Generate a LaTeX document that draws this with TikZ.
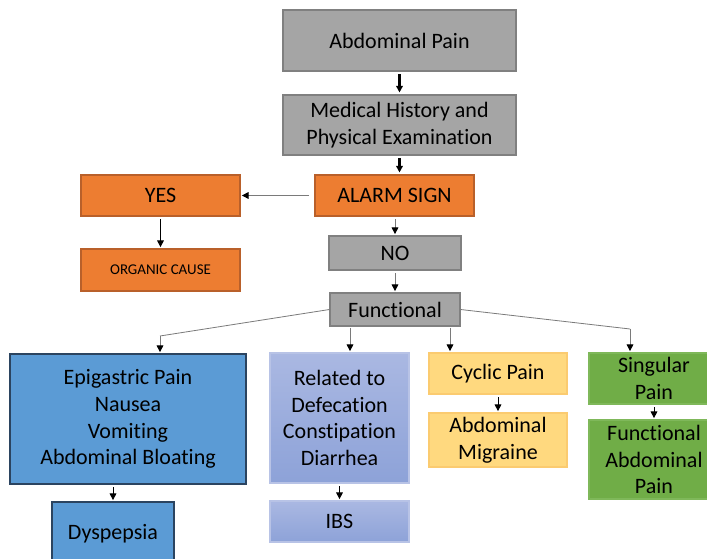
\documentclass[tikz,border=0pt]{standalone}
\usepackage{fontspec}
\setmainfont{Carlito}[Ligatures={NoCommon}]
\usetikzlibrary{arrows.meta}
\definecolor{cgray}{HTML}{A5A5A5}
\definecolor{cgrayd}{HTML}{808080}
\definecolor{corange}{HTML}{ED7D31}
\definecolor{coranged}{HTML}{B9602A}
\definecolor{cblue}{HTML}{5B9BD5}
\definecolor{cblued}{HTML}{2B4460}
\definecolor{clavt}{HTML}{AAB8E2}
\definecolor{clavb}{HTML}{8DA2D8}
\definecolor{clavd}{HTML}{B8C3E6}
\definecolor{cyel}{HTML}{FFD97F}
\definecolor{cyeld}{HTML}{FBCB70}
\definecolor{cgreen}{HTML}{70AD47}
\definecolor{cgreend}{HTML}{7FB85A}
\definecolor{cline}{HTML}{7A7A7A}
\tikzset{
  box/.style={inner sep=0pt, align=center, font=\fontsize{16.5}{20}\selectfont, line width=0.8pt},
  graybox/.style={box, fill=cgray, draw=cgrayd},
  orangebox/.style={box, fill=corange, draw=coranged},
  bluebox/.style={box, fill=cblue, draw=cblued},
  lavbox/.style={box, top color=clavt, bottom color=clavb, draw=clavd},
  yelbox/.style={box, fill=cyel, draw=cyeld},
  greenbox/.style={box, fill=cgreen, draw=cgreend},
  thickarr/.style={line width=1.7pt, -{Triangle[length=5pt,width=5pt]}, shorten <=2pt, shorten >=1.5pt},
  thinarr/.style={cline, line width=0.6pt, -{Triangle[length=5pt,width=5pt,black]}, shorten >=1pt},
  blackarr/.style={black, line width=0.7pt, -{Triangle[length=5pt,width=5pt]}, shorten <=2pt, shorten >=1pt},
  conn/.style={cline, line width=0.6pt}
}
\begin{document}
\begin{tikzpicture}[x=0.75pt,y=-0.75pt]
\useasboundingbox (0,0) rectangle (707,559);
% top
\node[graybox, minimum width=174.75pt, minimum height=45.75pt] (ap) at (399.5,40.5) {Abdominal Pain};
\node[graybox, minimum width=174.75pt, minimum height=45pt] (mh) at (399.5,125) {Medical History and\\Physical Examination};
\node[orangebox, minimum width=119.25pt, minimum height=30.75pt] (alarm) at (394.5,195.5) {ALARM SIGN};
\node[orangebox, minimum width=119.25pt, minimum height=30.75pt] (yes) at (160.5,195.5) {YES};
\node[orangebox, minimum width=119.25pt, minimum height=31.5pt, font=\fontsize{11.2}{13}\selectfont] (org) at (160.5,270) {ORGANIC CAUSE};
\node[graybox, minimum width=99pt, minimum height=25.5pt] (no) at (395,253) {NO};
\node[graybox, minimum width=97.5pt, minimum height=24.75pt] (fun) at (395,309.5) {Functional};
% bottom
\node[bluebox, minimum width=177pt, minimum height=97.5pt] (epi) at (128,419) {Epigastric Pain\\Nausea\\Vomiting\\Abdominal Bloating};
\node[bluebox, minimum width=91.5pt, minimum height=48pt] (dys) at (113,534) {Dyspepsia};
\node[lavbox, minimum width=104.25pt, minimum height=97.5pt] (rel) at (339.5,418) {Related to\\Defecation\\Constipation\\Diarrhea};
\node[lavbox, minimum width=104.25pt, minimum height=30.75pt] (ibs) at (339.5,521.5) {IBS};
\node[yelbox, minimum width=103.5pt, minimum height=30.75pt] (cyc) at (498,373.5) {Cyclic Pain};
\node[yelbox, minimum width=103.5pt, minimum height=40.5pt] (mig) at (498,440) {Abdominal\\Migraine};
\node[greenbox, minimum width=97.5pt, minimum height=38.25pt] (sing) at (654,378.5) {Singular\\Pain};
\node[greenbox, minimum width=97.5pt, minimum height=59.25pt] (fap) at (654,459.5) {Functional\\Abdominal\\Pain};
% connectors top
\draw[thickarr] (ap) -- (mh);
\draw[thickarr] (mh) -- (alarm.north -| mh.south);
\draw[thinarr, shorten <=4pt] (alarm.west) -- (yes.east);
\draw[blackarr] (yes.south -| org.north) -- (org.north);
\draw[thinarr, shorten <=2pt] (alarm.south -| no.north) -- (no.north);
\draw[thinarr, shorten <=2pt] (no) -- (fun);
% functional branches
\coordinate (l1) at (160,336);
\coordinate (r1) at (630,329);
\coordinate (m1) at (350,328);
\coordinate (m2) at (450,328);
\draw[conn] (fun.west) -- (l1);
\draw[thinarr] (l1) -- (l1 |- epi.north);
\draw[conn] (fun.east) -- (r1);
\draw[thinarr] (r1) -- (r1 |- sing.north);
\draw[thinarr] (m1) -- (m1 |- rel.north);
\draw[thinarr] (m2) -- (m2 |- cyc.north);
% lower arrows
\draw[blackarr] (epi.south -| dys.north) -- (dys.north);
\draw[blackarr] (rel) -- (ibs);
\draw[blackarr] (cyc) -- (mig);
\draw[blackarr] (sing) -- (fap);
\end{tikzpicture}
\end{document}
